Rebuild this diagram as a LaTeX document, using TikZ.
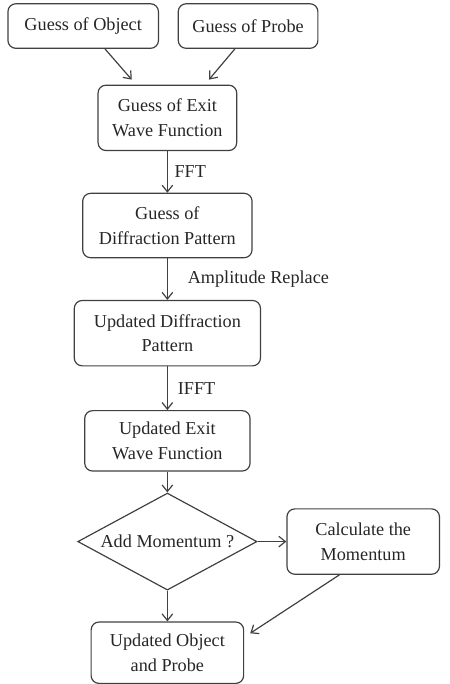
\documentclass[tikz,border=0pt]{standalone}
\usepackage{fontspec}
\setmainfont{Liberation Serif}
\usetikzlibrary{positioning,shapes.geometric,arrows.meta}
\tikzset{>={Straight Barb[length=5pt,width=8pt]}}
\tikzset{
  flowbox/.style={draw=black!75, line width=0.9pt, rounded corners=6pt, align=center, inner sep=2pt},
  choice/.style={draw=black!75, line width=0.9pt, diamond, aspect=1.85, inner sep=0pt},
  flow/.style={draw=black!75, line width=0.9pt, ->},
  lbl/.style={right, inner sep=0pt, text=black!85},
}

\begin{document}
\begin{tikzpicture}[font=\fontsize{13.8}{18.75}\selectfont, text=black!85]
          \node[flowbox, minimum width=105pt, minimum height=49.5pt] (exitg) {Guess of Exit\\Wave Function};
          \node[flowbox, minimum width=114pt, minimum height=33.75pt, above=27pt of exitg, xshift=-63.75pt] (obj) {Guess of Object};
          \node[flowbox, minimum width=105.75pt, minimum height=33.75pt, above=27pt of exitg, xshift=61.1pt] (probe) {Guess of Probe};
          \node[flowbox, minimum width=128.25pt, minimum height=48.75pt, below=31.5pt of exitg] (diff) {Guess of\\Diffraction Pattern};
          \node[flowbox, minimum width=141pt, minimum height=49.5pt, below=31.5pt of diff] (updiff) {Updated Diffraction\\Pattern};
          \node[flowbox, minimum width=125.25pt, minimum height=45.75pt, below=33pt of updiff] (upexit) {Updated Exit\\Wave Function};
          \node[choice, minimum width=135.75pt, minimum height=73.5pt, below=15.75pt of upexit] (mom) {Add Momentum ?};
          \node[flowbox, minimum width=115.5pt, minimum height=49.5pt, right=21.75pt of mom] (calc) {Calculate the\\Momentum};
          \node[flowbox, minimum width=115.5pt, minimum height=46.5pt, below=23.25pt of mom] (upd) {Updated Object\\and Probe};

          \draw[flow] ([xshift=16.5pt]obj.south) -- ([xshift=-27pt,yshift=3.75pt]exitg.north);
          \draw[flow] ([xshift=-10pt]probe.south) -- ([xshift=31.5pt,yshift=3.75pt]exitg.north);
          \draw[flow] (exitg) -- node[lbl, xshift=5pt] {FFT} (diff);
          \draw[flow] (diff) -- node[lbl, xshift=15pt] {Amplitude Replace} (updiff);
          \draw[flow] (updiff) -- node[lbl, xshift=7.5pt] {IFFT} (upexit);
          \draw[flow] (upexit) -- (mom);
          \draw[flow] (mom) -- (calc);
          \draw[flow] (mom) -- (upd);
          \draw[flow] ([xshift=-18pt]calc.south) -- ([xshift=4.5pt,yshift=-9pt]upd.north east);

          \path[use as bounding box] ([shift={(-126.75pt,89.25pt)}]exitg.center) rectangle ([shift={(213.75pt,-423.75pt)}]exitg.center);
        \end{tikzpicture}
\end{document}
